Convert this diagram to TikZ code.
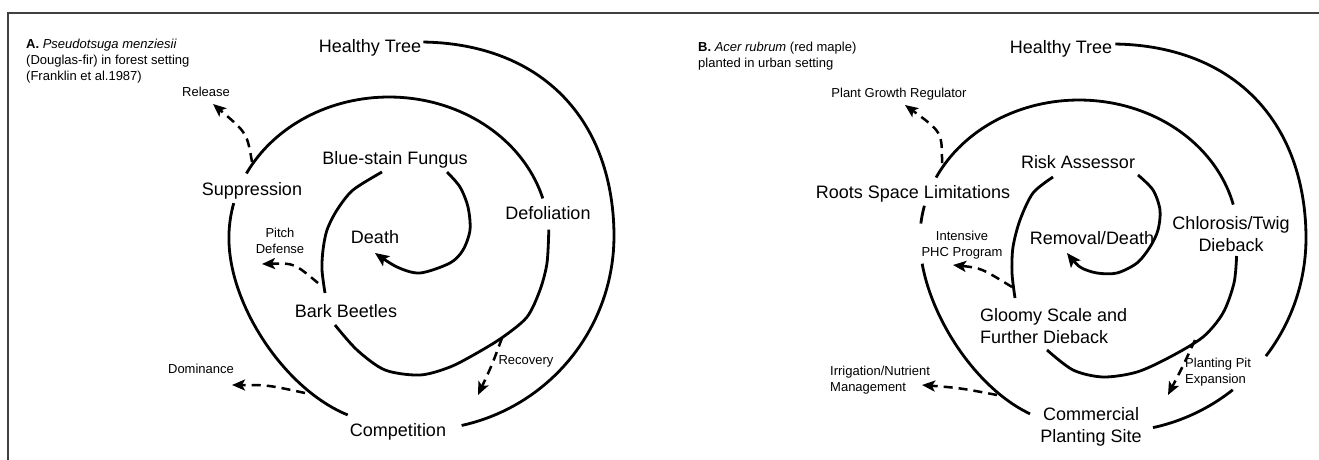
\documentclass[tikz,border=0pt]{standalone}
\usepackage{fontspec}
\setmainfont{Liberation Sans}
\usetikzlibrary{arrows.meta}
\begin{document}
\begin{tikzpicture}[x=1pt,y=-1pt,
  declare function={
    sA(\t)=3*(min(1,(\t-112)/78))^2-2*(min(1,(\t-112)/78))^3;
    sB(\t)=3*(min(1,(\t-115)/75))^2-2*(min(1,(\t-115)/75))^3;
    rO(\t)=194+6*(\t<0)*(sin(2*\t))^2;
  },
  big/.style={font=\fontsize{18}{22}\selectfont, inner sep=0pt, text height=13pt, text depth=0pt},
  bigm/.style={font=\fontsize{18}{22}\selectfont, inner sep=0pt, anchor=north},
  sm/.style={font=\fontsize{13}{16}\selectfont, inner sep=0pt, text height=9.4pt, text depth=0pt},
  smm/.style={font=\fontsize{13}{16}\selectfont, inner sep=0pt, anchor=north},
  spiral/.style={line width=2.8pt},
  dasharr/.style={line width=2.5pt, dash pattern=on 9pt off 6pt, -{Stealth[length=13pt,width=11pt,inset=3pt]}},
  spiralarr/.style={spiral, -{Stealth[length=14pt,width=12pt,inset=3pt]}},
  frame/.style={line width=1.5pt, draw=black!75}
]
\fill[white] (0,0) rectangle (1319,460);
\useasboundingbox (0,0) rectangle (1319,460);
\draw[frame] (8,460) -- (8,13) -- (1319,13);

% ---------------- Panel A ----------------
\node[smm, anchor=north west, align=left] (hdrA) at (26,38.4)
  {\textbf{A.} \textit{Pseudotsuga menziesii}\\(Douglas-fir) in forest setting\\(Franklin et al.1987)};
\node[big] (htA) at (370,46) {Healthy Tree};
\node[big] (bsf) at (395,158) {Blue-stain Fungus};
\node[big] (sup) at (252,189) {Suppression};
\node[big] (def) at (548,213) {Defoliation};
\node[big] (dea) at (375,237) {Death};
\node[big] (bb) at (346,311) {Bark Beetles};
\node[big] (com) at (398,430) {Competition};
\node[sm] (rel) at (206,92) {Release};
\node[sm] (rec) at (526,360) {Recovery};
\node[sm] (dom) at (201,369) {Dominance};
\node[smm, align=center] (pd) at (280,227.4) {Pitch\\Defense};

% outer ring
\draw[spiral] plot[domain=-89:77.6, samples=90, variable=\t]
  ({420+rO(\t)*cos(\t)}, {236+rO(\t)*sin(\t)});
% second ring, left (blend outer -> inner ellipse)
\draw[spiral] plot[domain=112:194, samples=50, variable=\t]
  ({420+193*cos(\t)-sA(\t)*(31+33*cos(\t))}, {236+193*sin(\t)+sA(\t)*(1-53*sin(\t))});
% second ring, top
\draw[spiral] plot[domain=207:344, samples=70, variable=\t]
  ({389+160*cos(\t)}, {237+140*sin(\t)});
% second ring, right and bottom
\draw[spiral] plot[smooth] coordinates {(548.8,229.7) (547,263) (540,290) (527,317) (503,337) (477,353) (450,367) (420,375) (385,370) (357,350) (335,325)};
% inner ring
\draw[spiral] plot[smooth] coordinates {(382,172) (353,190) (337,210) (327,230) (323,250) (322,270) (325,293)};
\draw[spiralarr] plot[smooth] coordinates {(447,172) (460,187) (468,207) (470,230) (463,250) (450,263) (420,273) (397,267) (375,253)};

\coordinate (relS) at (252,162); \coordinate (relT) at (213,104);
\coordinate (pdS) at (318,283);  \coordinate (pdT) at (262,264);
\coordinate (domS) at (305,393); \coordinate (domT) at (232,385);
\coordinate (recS) at (502,338); \coordinate (recT) at (478,395);
\draw[dasharr] (relS) .. controls (247,133) .. (relT);
\draw[dasharr] (pdS) .. controls (294,263) .. (pdT);
\draw[dasharr] (domS) .. controls (268,385) .. (domT);
\draw[dasharr] (recS) .. controls (492,365) .. (recT);

% ---------------- Panel B ----------------
\node[smm, anchor=north west, align=left] (hdrB) at (698,41.4)
  {\textbf{B.} \textit{Acer rubrum} (red maple)\\planted in urban setting};
\node[big] (htB) at (1061,47) {Healthy Tree};
\node[big] (ra) at (1078,162) {Risk Assessor};
\node[big] (rsl) at (913,192) {Roots Space Limitations};
\node[big] (rd) at (1092,238) {Removal/Death};
\node[bigm, align=center] (ctd) at (1231,216.5) {Chlorosis/Twig\\Dieback};
\node[bigm, anchor=north west, align=left] (gs) at (980,308.5) {Gloomy Scale and\\Further Dieback};
\node[bigm, align=center] (cps) at (1091,407.5) {Commercial\\Planting Site};
\node[sm] (pgr) at (899,93) {Plant Growth Regulator};
\node[smm, align=center] (phc) at (962,230.4) {Intensive\\PHC Program};
\node[smm, anchor=north west, align=left] (ppe) at (1185,357.4) {Planting Pit\\Expansion};
\node[smm, anchor=north west, align=left] (inm) at (830,365.4) {Irrigation/Nutrient\\Management};

% outer ring (two pieces)
\draw[spiral] plot[domain=-89:37.5, samples=80, variable=\t]
  ({1112+rO(\t)*cos(\t)}, {238+rO(\t)*sin(\t)});
\draw[spiral] plot[domain=51.5:77.8, samples=20, variable=\t]
  ({1112+194*cos(\t)}, {238+194*sin(\t)});
% second ring, left (blend) in two pieces
\draw[spiral] plot[domain=115:170, samples=40, variable=\t]
  ({1112+194*cos(\t)-sB(\t)*(33+35*cos(\t))}, {238+194*sin(\t)-sB(\t)*56*sin(\t)});
\draw[spiral] plot[domain=186:193.5, samples=8, variable=\t]
  ({1112+194*cos(\t)-sB(\t)*(33+35*cos(\t))}, {238+194*sin(\t)-sB(\t)*56*sin(\t)});
% second ring, top
\draw[spiral] plot[domain=206:346, samples=70, variable=\t]
  ({1079+159*cos(\t)}, {238+138*sin(\t)});
% second ring, right and bottom
\draw[spiral] plot[smooth] coordinates {(1236.6,256) (1234,283) (1223,313) (1203,337) (1170,357) (1137,372) (1103,377) (1073,370) (1047,350)};
% inner ring
\draw[spiral] plot[smooth] coordinates {(1053,177) (1033,193) (1020,220) (1013,247) (1012,273) (1015,298)};
\draw[spiralarr] plot[smooth] coordinates {(1138,175) (1153,190) (1160,210) (1158,230) (1150,247) (1137,263) (1117,273) (1097,273) (1080,267) (1067,253)};

\coordinate (pgrS) at (942,163);  \coordinate (pgrT) at (905,105);
\coordinate (phcS) at (1012,287); \coordinate (phcT) at (953,265);
\coordinate (inmS) at (997,395);  \coordinate (inmT) at (922,385);
\coordinate (ppeS) at (1195,340); \coordinate (ppeT) at (1168,395);
\draw[dasharr] (pgrS) .. controls (942,132) .. (pgrT);
\draw[dasharr] (phcS) .. controls (981,268) .. (phcT);
\draw[dasharr] (inmS) .. controls (960,388) .. (inmT);
\draw[dasharr] (ppeS) .. controls (1183,366) .. (ppeT);
\end{tikzpicture}
\end{document}
